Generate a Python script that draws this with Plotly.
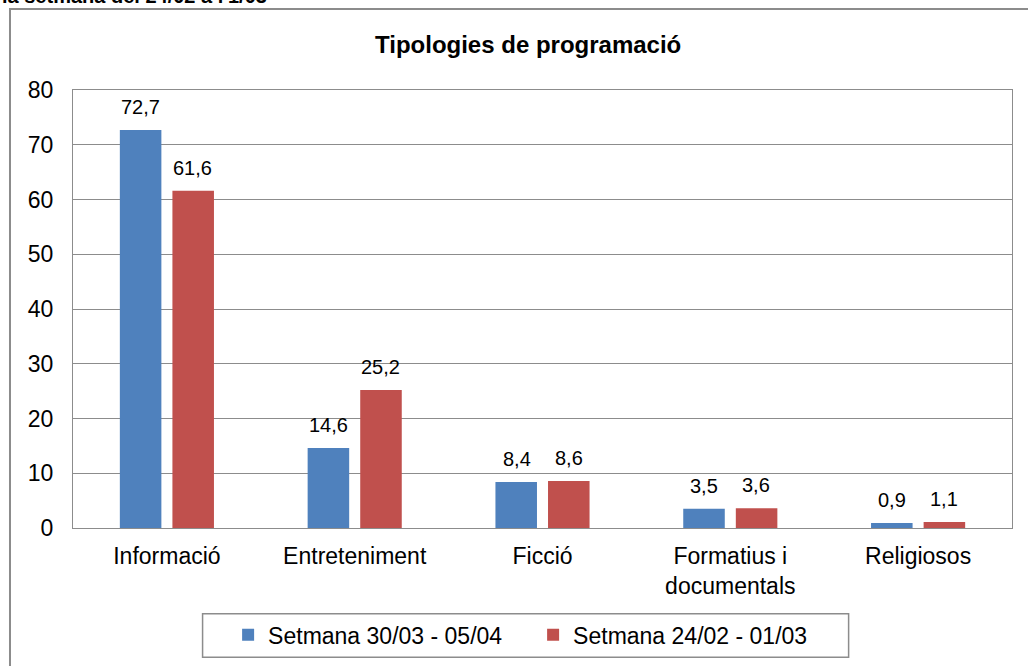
import plotly.graph_objects as go

# categories and values
categories = ["Informació", "Entreteniment", "Ficció", "Formatius i<br>documentals", "Religiosos"]
setmana_30_03 = [72.7, 14.6, 8.4, 3.5, 0.9]
setmana_24_02 = [61.6, 25.2, 8.6, 3.6, 1.1]
series_names = ["Setmana 30/03 - 05/04", "Setmana 24/02 - 01/03"]
y_ticks = [0, 10, 20, 30, 40, 50, 60, 70, 80]

font_family = "Arial, Liberation Sans, sans-serif"
blue = "#4F81BD"
red = "#C0504D"
grid = "#8C8C8C"

def fmt(v):
    return f"{v:.1f}".replace(".", ",")

fig = go.Figure()
labels = []
for name, vals, col, shift in [(series_names[0], setmana_30_03, blue, -26),
                               (series_names[1], setmana_24_02, red, 26)]:
    fig.add_trace(go.Bar(
        x=categories, y=vals, name=name,
        marker=dict(color=col, line=dict(width=0)),
    ))
    # value labels a bit above the bars
    for c, v in zip(categories, vals):
        labels.append(dict(text=fmt(v), x=c, y=v, xref="x", yref="y",
                           xshift=shift, yshift=10, yanchor="bottom", showarrow=False,
                           font=dict(size=20)))

fig.update_layout(
    width=1028, height=666,
    margin=dict(l=73, r=16, t=90, b=138, autoexpand=False),
    paper_bgcolor="white", plot_bgcolor="white",
    font=dict(family=font_family, color="black", size=23),
    barmode="group", bargap=0.44, bargroupgap=0.21,
    showlegend=True,
    legend=dict(orientation="h", x=0.490, xanchor="center", y=-0.244, yanchor="middle",
                font=dict(size=23), bgcolor="rgba(0,0,0,0)", borderwidth=0,
                itemsizing="constant", itemwidth=30, entrywidth=260),
    shapes=[
        # outer chart border
        dict(type="rect", xref="paper", yref="paper", x0=-0.0671, x1=1.05, y0=-0.4, y1=1.185,
             line=dict(color="#8C8C8C", width=2), layer="below"),
        # legend box
        dict(type="rect", xref="paper", yref="paper", x0=0.138, x1=0.826, y0=-0.295, y1=-0.196,
             line=dict(color="#8C8C8C", width=1.5)),
    ],
    annotations=labels + [
        dict(text="<b>Tipologies de programació</b>", xref="paper", yref="paper",
             x=0.485, y=1.103, xanchor="center", yanchor="middle", showarrow=False,
             font=dict(size=24)),
        dict(text="<b>la setmana del 24/02 a l'1/03</b>", xref="paper", yref="paper",
             x=-0.0777, y=1.184, xanchor="left", yanchor="bottom", showarrow=False,
             font=dict(size=20)),
    ],
)
fig.update_yaxes(range=[0, 80], tickvals=y_ticks, showgrid=True, gridcolor=grid, gridwidth=1,
                 showline=True, linecolor=grid, mirror=True, zeroline=False,
                 ticks="", ticklabelstandoff=14, tickfont=dict(size=23))
fig.update_xaxes(showline=True, linecolor=grid, mirror=True, showgrid=False,
                 ticks="", ticklabelstandoff=7, tickfont=dict(size=23))

fig.write_html("out.html", config={"displayModeBar": False},
               post_script="document.body.style.margin='0';")
